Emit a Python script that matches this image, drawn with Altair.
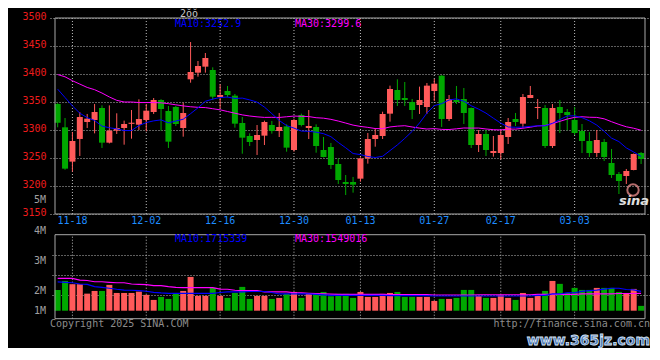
import altair as alt
import pandas as pd

# ---------------- data ----------------
opens = [3346.4, 3304.8, 3243.5, 3284.0, 3314.3, 3317.9, 3339.3, 3277.4, 3298.8, 3303.6,
         3311.0, 3309.5, 3317.9, 3332.1, 3353.6, 3333.9, 3341.1, 3303.6, 3390.5, 3402.4,
         3413.1, 3407.1, 3358.9, 3369.6, 3361.3, 3312.5, 3289.3, 3282.1, 3289.9, 3308.9,
         3298.2, 3306.5, 3264.3, 3326.8, 3303.6, 3305.4, 3264.3, 3269.6, 3239.3, 3207.1,
         3207.1, 3213.1, 3249.4, 3283.9, 3289.3, 3329.2, 3371.4, 3357.1, 3350.0, 3344.6,
         3341.1, 3369.6, 3397.0, 3319.6, 3353.6, 3355.4, 3339.3, 3273.2, 3292.9, 3258.9,
         3258.9, 3287.5, 3319.6, 3311.3, 3357.1, 3339.3, 3339.3, 3271.4, 3341.1, 3332.1,
         3317.9, 3298.2, 3280.4, 3258.9, 3278.6, 3241.1, 3221.4, 3217.9, 3228.6, 3258.9]
highs = [3348.0, 3321.4, 3296.4, 3332.1, 3328.6, 3346.4, 3344.0, 3344.0, 3329.8, 3316.7,
         3335.7, 3354.8, 3346.4, 3357.1, 3355.0, 3342.9, 3342.9, 3348.8, 3457.1, 3423.2,
         3437.5, 3411.9, 3381.5, 3378.6, 3364.3, 3323.2, 3294.0, 3308.9, 3316.7, 3316.1,
         3330.4, 3310.1, 3320.2, 3329.2, 3335.7, 3310.1, 3287.5, 3276.8, 3249.4, 3219.6,
         3216.1, 3251.2, 3294.6, 3303.6, 3332.7, 3379.2, 3390.5, 3385.7, 3355.4, 3377.4,
         3383.9, 3391.1, 3398.0, 3362.5, 3378.6, 3375.0, 3340.0, 3300.0, 3300.0, 3289.3,
         3300.0, 3321.4, 3330.4, 3364.3, 3378.6, 3355.4, 3344.6, 3346.4, 3353.6, 3337.5,
         3341.1, 3310.7, 3296.4, 3300.0, 3283.9, 3266.1, 3225.0, 3230.4, 3258.0, 3260.7]
lows = [3304.8, 3229.0, 3225.6, 3253.6, 3303.6, 3294.0, 3267.9, 3276.0, 3292.9, 3273.8,
        3284.5, 3300.0, 3297.6, 3328.6, 3298.8, 3267.9, 3307.1, 3288.1, 3384.5, 3395.2,
        3402.4, 3353.6, 3338.7, 3358.3, 3304.2, 3257.7, 3271.4, 3255.4, 3273.2, 3293.5,
        3287.5, 3261.3, 3261.3, 3306.5, 3283.9, 3259.5, 3251.0, 3230.4, 3203.6, 3183.9,
        3188.1, 3207.7, 3239.9, 3270.2, 3283.9, 3314.9, 3342.9, 3342.9, 3319.6, 3328.6,
        3328.6, 3351.8, 3305.4, 3316.1, 3346.4, 3310.7, 3267.9, 3260.7, 3253.6, 3252.4,
        3247.6, 3275.0, 3307.1, 3303.6, 3357.0, 3319.6, 3267.9, 3267.9, 3294.6, 3299.4,
        3291.1, 3258.9, 3251.8, 3251.8, 3244.6, 3214.3, 3185.7, 3203.6, 3228.0, 3239.3]
closes = [3313.1, 3231.0, 3280.4, 3323.2, 3320.2, 3332.1, 3277.4, 3298.8, 3303.6, 3310.7,
          3313.0, 3319.6, 3334.5, 3353.6, 3337.5, 3279.2, 3310.7, 3330.4, 3403.6, 3414.3,
          3428.6, 3359.5, 3362.5, 3362.5, 3311.3, 3286.3, 3278.6, 3291.1, 3314.3, 3298.2,
          3305.4, 3268.5, 3317.9, 3308.9, 3307.1, 3271.4, 3251.8, 3237.5, 3210.7, 3203.6,
          3202.4, 3249.4, 3283.9, 3291.1, 3328.6, 3373.2, 3353.6, 3353.6, 3335.7, 3353.6,
          3379.2, 3382.7, 3319.6, 3355.4, 3350.0, 3330.4, 3273.2, 3292.9, 3264.3, 3262.5,
          3291.1, 3314.3, 3314.3, 3358.9, 3362.5, 3341.1, 3271.4, 3339.3, 3330.4, 3326.8,
          3294.6, 3280.4, 3258.9, 3282.1, 3251.8, 3219.6, 3208.9, 3226.8, 3257.1, 3248.2]
ma10 = [3373.0, 3358.0, 3343.0, 3330.0, 3322.0, 3317.0, 3307.0, 3304.0, 3302.0, 3299.05,
        3298.99, 3307.85, 3313.26, 3316.3, 3318.03, 3312.74, 3316.07, 3319.23, 3329.23, 3339.59,
        3351.2, 3355.19, 3357.99, 3358.88, 3356.26, 3356.97, 3353.76, 3349.83, 3340.9, 3329.29,
        3316.97, 3307.87, 3303.41, 3298.05, 3297.63, 3296.14, 3293.46, 3288.1, 3277.74, 3268.28,
        3257.98, 3256.07, 3252.67, 3250.89, 3253.04, 3263.22, 3273.4, 3285.01, 3297.51, 3312.51,
        3330.19, 3343.52, 3347.09, 3353.52, 3355.66, 3351.38, 3343.34, 3337.27, 3330.13, 3321.02,
        3312.21, 3305.37, 3304.84, 3305.19, 3306.44, 3307.51, 3307.33, 3311.97, 3318.58, 3325.01,
        3325.36, 3321.97, 3316.43, 3308.75, 3297.68, 3285.53, 3279.28, 3268.03, 3260.7, 3252.84]
ma30 = [3399.0, 3395.0, 3388.0, 3382.0, 3376.0, 3372.0, 3366.0, 3359.0, 3353.0, 3350.0,
        3350.0, 3349.0, 3349.0, 3349.0, 3348.5, 3347.0, 3345.0, 3343.0, 3341.5, 3340.5,
        3340.0, 3338.0, 3336.0, 3333.0, 3330.0, 3327.0, 3325.0, 3323.5, 3322.5, 3322.64,
        3322.39, 3323.64, 3324.89, 3324.41, 3323.97, 3321.95, 3321.1, 3319.05, 3315.96, 3312.39,
        3308.72, 3306.38, 3304.69, 3302.61, 3302.31, 3305.44, 3306.87, 3307.65, 3305.38, 3303.36,
        3301.71, 3302.49, 3301.06, 3300.82, 3302.11, 3303.58, 3303.4, 3303.46, 3301.79, 3300.6,
        3300.13, 3301.65, 3301.53, 3303.2, 3305.05, 3307.37, 3308.02, 3311.42, 3315.41, 3319.51,
        3322.59, 3323.62, 3322.79, 3322.49, 3319.93, 3314.81, 3309.98, 3305.76, 3303.14, 3299.62]
volumes = [1.85, 2.65, 2.36, 2.36, 1.52, 1.76, 1.76, 2.30, 1.58, 1.58,
           1.58, 1.70, 1.41, 0.96, 1.23, 1.05, 1.58, 1.76, 3.01, 1.32,
           1.32, 2.03, 1.32, 1.14, 1.58, 2.12, 1.05, 1.32, 1.32, 1.05,
           1.14, 1.50, 1.67, 1.14, 1.50, 1.58, 1.67, 1.29, 1.50, 1.50,
           1.14, 1.67, 1.23, 1.23, 1.50, 1.58, 1.67, 1.23, 1.23, 1.23,
           1.23, 0.87, 1.05, 1.05, 1.14, 1.85, 1.85, 1.32, 1.14, 1.14,
           1.41, 1.14, 0.96, 1.58, 1.14, 1.41, 1.76, 2.65, 2.39, 1.58,
           2.03, 1.85, 1.85, 2.03, 2.03, 2.03, 1.67, 1.58, 1.94, 0.43]
vma10 = [2.56, 2.53, 2.49, 2.38, 2.35, 2.14, 2.08, 2.00, 1.91, 1.84,
         1.82, 1.78, 1.73, 1.64, 1.58, 1.55, 1.55, 1.55, 1.55, 1.55,
         1.55, 1.55, 1.62, 1.67, 1.67, 1.67, 1.71, 1.71, 1.71, 1.62,
         1.49, 1.49, 1.49, 1.49, 1.49, 1.45, 1.41, 1.37, 1.37, 1.37,
         1.37, 1.37, 1.37, 1.37, 1.37, 1.34, 1.34, 1.34, 1.34, 1.34,
         1.34, 1.31, 1.31, 1.31, 1.31, 1.31, 1.31, 1.31, 1.31, 1.31,
         1.31, 1.31, 1.31, 1.31, 1.31, 1.37, 1.37, 1.49, 1.49, 1.60,
         1.60, 1.72, 1.78, 1.84, 1.92, 2.00, 2.00, 1.89, 1.86, 1.715]
vma30 = [2.885, 2.885, 2.885, 2.73, 2.69, 2.58, 2.58, 2.53, 2.49, 2.49,
         2.38, 2.35, 2.32, 2.23, 2.23, 2.14, 2.08, 2.05, 2.05, 2.05,
         2.05, 2.05, 1.93, 1.91, 1.82, 1.78, 1.78, 1.78, 1.67, 1.67,
         1.67, 1.67, 1.60, 1.58, 1.55, 1.52, 1.49, 1.47, 1.46, 1.45,
         1.45, 1.45, 1.45, 1.45, 1.45, 1.43, 1.43, 1.43, 1.43, 1.43,
         1.43, 1.40, 1.40, 1.40, 1.40, 1.40, 1.40, 1.42, 1.42, 1.42,
         1.42, 1.42, 1.42, 1.42, 1.42, 1.46, 1.46, 1.46, 1.46, 1.46,
         1.46, 1.50, 1.50, 1.50, 1.50, 1.50, 1.53, 1.53, 1.53, 1.549]

date_idx = [2, 12, 22, 32, 41, 51, 60, 70]
date_labels = ["11-18", "12-02", "12-16", "12-30", "01-13", "01-27", "02-17", "03-03"]
price_ticks = [3150, 3200, 3250, 3300, 3350, 3400, 3450, 3500]
vol_label_text = ["5M", "4M", "3M", "2M", "1M"]
vol_label_at = [9.86, 7.12, 4.45, 1.78, 0.0]
vol_grid = [1.37, 3.15, 4.93]

# ---------------- tables ----------------
n = len(closes)
df = pd.DataFrame({
    "i": list(range(n)), "open": opens, "high": highs, "low": lows, "close": closes,
    "vol": volumes, "ma10": ma10, "ma30": ma30, "vma10": vma10, "vma30": vma30,
})
df["dir"] = ["up" if c >= o else "down" for o, c in zip(opens, closes)]
dates = pd.DataFrame({"i": date_idx, "label": date_labels})
vlab = pd.DataFrame({"v": vol_label_at, "t": vol_label_text})
one = pd.DataFrame({"k": [0]})

RED, GREEN = "#ff5a5a", "#00a800"
BLUE, MAG = "#0000ff", "#ff00ff"
GRID, BORDER = "#bdbdbd", "#a8a8a8"
MONO = "DejaVu Sans Mono"

X_LO, X_HI = -0.36, 79.53
P_LO, P_HI = 3150, 3500
V_LO, V_HI = -0.712, 6.768


def PS():
    return alt.Scale(domain=[P_LO, P_HI], range=[196, 0], nice=False, zero=False)


def VS():
    return alt.Scale(domain=[V_LO, V_HI], range=[300.7, 216.7], nice=False, zero=False)


XS = alt.Scale(domain=[X_LO, X_HI], nice=False, zero=False)
color = alt.Color("dir:N", scale=alt.Scale(domain=["up", "down"], range=[RED, GREEN]), legend=None)
xi = alt.X("i:Q", scale=XS, axis=None)

# ---------------- price panel ----------------
p_axis = alt.Chart(df).mark_rule(strokeWidth=1).encode(
    x=xi,
    y=alt.Y("low:Q", scale=PS(), axis=alt.Axis(
        values=price_ticks, format="d", title=None, ticks=False, domain=False, grid=True,
        gridDash=[1, 2], gridColor=GRID, gridWidth=1, labelColor="#ee1c1c",
        labelFont=MONO, labelFontSize=10, labelPadding=4, labelFlush=False,
        labelOffset=-1.5, orient="left", labelOverlap=False)),
    y2="high:Q", color=color)
p_vgrid = alt.Chart(dates).mark_rule(color=GRID, strokeDash=[1, 2], strokeWidth=1).encode(
    x=xi, y=alt.YDatum(P_LO, scale=PS(), axis=None), y2=alt.Y2Datum(P_HI))
p_border = alt.Chart(one).mark_rect(fillOpacity=0, stroke=BORDER, strokeWidth=1).encode(
    x=alt.XDatum(X_LO, scale=XS, axis=None), x2=alt.X2Datum(X_HI),
    y=alt.YDatum(P_LO, scale=PS(), axis=None), y2=alt.Y2Datum(P_HI))
p_body = alt.Chart(df).mark_bar(size=6).encode(
    x=xi, y=alt.Y("open:Q", scale=PS(), axis=None), y2="close:Q", color=color)
p_ma10 = alt.Chart(df).mark_line(color=BLUE, strokeWidth=1).encode(
    x=xi, y=alt.Y("ma10:Q", scale=PS(), axis=None))
p_ma30 = alt.Chart(df).mark_line(color=MAG, strokeWidth=1).encode(
    x=xi, y=alt.Y("ma30:Q", scale=PS(), axis=None))
p_dates = alt.Chart(dates).mark_text(font=MONO, fontSize=10, color="#1e8cff",
                                      baseline="middle", dy=7).encode(
    x=xi, y=alt.YDatum(P_LO, scale=PS(), axis=None), text="label:N")

# ---------------- volume panel ----------------
v_bar = alt.Chart(df).mark_bar(size=6).encode(
    x=xi,
    y=alt.Y("vol:Q", scale=VS(), axis=alt.Axis(
        values=vol_grid, labels=False, ticks=False, domain=False, grid=True,
        gridDash=[1, 2], gridColor=GRID, gridWidth=1, title=None, orient="right")),
    y2=alt.Y2Datum(0), color=color)
v_vgrid = alt.Chart(dates).mark_rule(color=GRID, strokeDash=[1, 2], strokeWidth=1).encode(
    x=xi, y=alt.YDatum(V_LO, scale=VS(), axis=None), y2=alt.Y2Datum(V_HI))
v_border = alt.Chart(one).mark_rect(fillOpacity=0, stroke=BORDER, strokeWidth=1).encode(
    x=alt.XDatum(X_LO, scale=XS, axis=None), x2=alt.X2Datum(X_HI),
    y=alt.YDatum(V_LO, scale=VS(), axis=None), y2=alt.Y2Datum(V_HI))
v_ma10 = alt.Chart(df).mark_line(color=BLUE, strokeWidth=1.2).encode(
    x=xi, y=alt.Y("vma10:Q", scale=VS(), axis=None))
v_ma30 = alt.Chart(df).mark_line(color=MAG, strokeWidth=1.2).encode(
    x=xi, y=alt.Y("vma30:Q", scale=VS(), axis=None))
v_labels = alt.Chart(vlab).mark_text(font=MONO, fontSize=10, color="#a0a0a0",
                                      align="right", baseline="middle").encode(
    x=alt.value(-4), y=alt.Y("v:Q", scale=VS(), axis=None), text="t:N")


# ---------------- annotations ----------------
def label(txt, x, y, col, **kw):
    base = dict(font=MONO, fontSize=10, color=col, align="left", baseline="middle")
    base.update(kw)
    return alt.Chart(one).mark_text(text=txt, **base).encode(x=alt.value(x), y=alt.value(y))


annots = [
    label("2ŏŏ", 139, -4, "#c8c8c8", align="center", fontSize=10),
    label("MA10:3252.9", 125, 5.5, BLUE),
    label("MA30:3299.6", 245, 5.5, MAG),
    label("MA10:1715339", 125, 220.5, BLUE),
    label("MA30:1549016", 245, 220.5, MAG),
    label("Copyright 2025 SINA.COM", 0, 306, "#8c8c8c"),
    label("http://finance.sina.com.cn", 600, 306, "#8c8c8c", align="right"),
    label("sina", 584, 183, "#e0e0e0", align="center", font="DejaVu Sans",
          fontSize=13, fontWeight="bold", fontStyle="italic"),
    label("www.365jz.com", 600, 323, "#4674b4", align="right", font="DejaVu Sans",
          fontSize=14, fontWeight="bold", stroke="#dbe6f5", strokeWidth=0.8),
]
eye = alt.Chart(one).mark_point(shape="circle", size=130, filled=False, stroke="#ff9a9a",
                                strokeWidth=2).encode(x=alt.value(583), y=alt.value(172))

chart = alt.layer(
    p_vgrid, p_axis, p_body, p_ma30, p_ma10, p_border, p_dates,
    v_vgrid, v_bar, v_ma30, v_ma10, v_border, v_labels,
    *annots, eye,
).resolve_scale(y="independent").properties(
    width=600, height=301,
    autosize=alt.AutoSizeParams(type="none"),
    padding={"left": 42, "top": 10, "right": 0, "bottom": 29},
    background="#000000",
).configure_view(stroke=None)

chart.save("out.html", embed_options={"renderer": "svg", "actions": False})
